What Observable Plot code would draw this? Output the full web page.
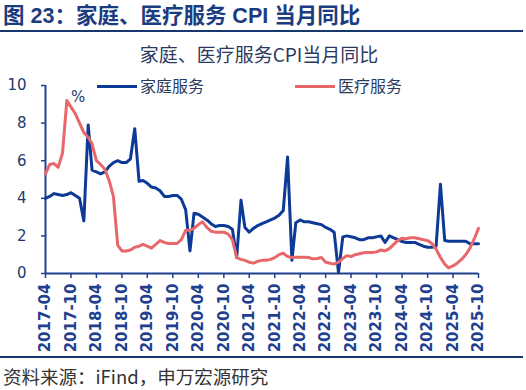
<!DOCTYPE html>
<html>
<head>
<meta charset="utf-8">
<script src="https://cdn.jsdelivr.net/npm/d3@7"></script>
<script src="https://cdn.jsdelivr.net/npm/@observablehq/plot@0.6"></script>
<style>
  html, body { margin: 0; padding: 0; background: #fff; }
  #wrap { position: relative; width: 526px; height: 390px; overflow: hidden; font-family: "Noto Sans CJK SC", "Noto Sans", sans-serif; }
  #title { height: 30px; line-height: 32px; padding-left: 3px; font-size: 21.5px; font-weight: 700; color: #1c3c80; border-bottom: 2.5px solid #17386f; width: 520px; white-space: nowrap; font-family: "Liberation Sans", "Noto Sans CJK SC", sans-serif; }
  #sub { position: absolute; top: 41px; left: 0; width: 518px; text-align: center; font-size: 19px; color: #2a3a60; line-height: 26px; }
  #legend { position: absolute; top: 73px; left: 0; width: 526px; height: 24px; font-size: 16px; color: #2a3a60; line-height: 24px; }
  .li { position: absolute; top: 0; white-space: nowrap; }
  .sw { display: inline-block; width: 40px; height: 3px; vertical-align: middle; margin-right: 3px; position: relative; top: -1px; }
  #pct { position: absolute; left: 71px; top: 88px; font-size: 15px; color: #2a3a60; font-family: "DejaVu Sans", sans-serif; }
  #foot { border-top: 2.5px solid #17386f; width: 520px; height: 30px; line-height: 37px; padding-left: 3px; font-size: 18.5px; color: #333; }
  #chart svg { display: block; }
</style>
</head>
<body>
<div id="wrap">
  <div id="title">图 23：家庭、医疗服务 CPI 当月同比</div>
  <div id="chart"></div>
  <div id="foot">资料来源：iFind，申万宏源研究</div>
  <div id="sub">家庭、医疗服务CPI当月同比</div>
  <div id="legend"></div>
  <div id="pct">%</div>
</div>
<script>
// Months: 2017-04 .. 2025-10
const startMonth = "2017-04";
const endMonth = "2025-10";

const seriesNames = ["家庭服务", "医疗服务"];
const seriesColors = ["#0c3a96", "#e8676b"];

// 家庭服务 CPI 当月同比 (%)
const household = [
  4.0, 4.1, 4.25, 4.2, 4.15, 4.2, 4.3, 4.15, 4.0,
  2.8, 7.9, 5.5, 5.4, 5.3, 5.4, 5.7, 5.9, 6.0, 5.9, 5.9, 6.1,
  7.7, 4.9, 4.95, 4.8, 4.6, 4.55, 4.4, 4.1, 4.1, 4.15, 4.15, 3.95,
  3.4, 1.2, 3.2, 3.15, 3.0, 2.85, 2.65, 2.5, 2.55, 2.55, 2.5, 2.35,
  0.85, 3.9, 2.45, 2.2, 2.4, 2.55, 2.65, 2.75, 2.85, 2.95, 3.1, 3.35,
  6.2, 0.7, 2.7, 2.85, 2.75, 2.75, 2.7, 2.65, 2.6, 2.45, 2.35, 2.2,
  0.05, 1.95, 2.0, 1.95, 1.9, 1.8, 1.8, 1.9, 1.9, 1.95, 2.0, 1.65,
  2.0, 1.9, 1.8, 1.7, 1.65, 1.65, 1.65, 1.55, 1.45, 1.4, 1.4, 1.45,
  4.75, 1.75, 1.72, 1.72, 1.72, 1.72, 1.72, 1.58, 1.58, 1.58
];

// 医疗服务 CPI 当月同比 (%)
const medical = [
  5.3, 5.8, 5.85, 5.65, 6.4, 9.2, 8.85, 8.5, 8.0,
  7.5, 7.25, 6.9, 6.0, 5.8, 5.55, 4.95, 4.1, 1.5, 1.2, 1.2, 1.25,
  1.4, 1.45, 1.55, 1.45, 1.35, 1.55, 1.75, 1.65, 1.6, 1.6, 1.6, 1.8,
  2.3, 2.3, 2.4, 2.6, 2.75, 2.45, 2.25, 2.2, 2.2, 2.2, 2.1, 1.8,
  0.85, 0.75, 0.7, 0.6, 0.55, 0.65, 0.7, 0.7, 0.75, 0.85, 1.0, 1.08,
  0.9, 0.85, 0.87, 0.87, 0.87, 0.85, 0.78, 0.8, 0.85, 0.6, 0.55, 0.5,
  0.6, 0.8, 0.95, 0.9, 1.0, 1.05, 1.1, 1.12, 1.12, 1.15, 1.25, 1.2,
  1.32, 1.55, 1.75, 1.88, 1.85, 1.9, 1.9, 1.85, 1.8, 1.75, 1.6, 1.3,
  0.85, 0.5, 0.3, 0.4, 0.55, 0.75, 1.0, 1.35, 1.85, 2.4
];

const xTickLabels = ["2017-04","2017-10","2018-04","2018-10","2019-04","2019-10","2020-04","2020-10",
  "2021-04","2021-10","2022-04","2022-10","2023-04","2023-10","2024-04","2024-10","2025-04","2025-10"];
const yTicks = [0, 2, 4, 6, 8, 10];

const parseM = d3.utcParse("%Y-%m");
const fmtM = d3.utcFormat("%Y-%m");
const t0 = parseM(startMonth), t1 = parseM(endMonth);
const months = d3.utcMonth.range(t0, d3.utcMonth.offset(t1, 1));

const rows = [];
months.forEach((d, i) => {
  rows.push({date: d, value: household[i], s: seriesNames[0]});
});
months.forEach((d, i) => {
  rows.push({date: d, value: medical[i], s: seriesNames[1]});
});

const axisColor = "#1f3f8f";
const textColor = "#223a6b";

const chart = Plot.plot({
  width: 526,
  height: 324,
  marginLeft: 45,
  marginRight: 48,
  marginTop: 53,
  marginBottom: 83,
  style: {fontFamily: "'DejaVu Sans', sans-serif", background: "transparent", overflow: "visible"},
  x: {type: "utc", domain: [t0, t1]},
  y: {domain: [0, 10]},
  color: {domain: seriesNames, range: seriesColors},
  marks: [
    Plot.axisY({ticks: yTicks, tickSize: 4, tickPadding: 15, stroke: axisColor, strokeWidth: 1.5, fill: textColor, fontSize: 15, label: null}),
    Plot.axisX({ticks: xTickLabels.map(parseM), tickFormat: fmtM, tickRotate: -90, tickSize: 5, tickPadding: 5, stroke: axisColor, strokeWidth: 1.5, fill: axisColor, fontSize: 15, fontWeight: 600, label: null}),
    Plot.ruleX([t0], {y1: 0, y2: 10, stroke: axisColor, strokeWidth: 2}),
    Plot.ruleY([0], {stroke: axisColor, strokeWidth: 2}),
    Plot.lineY(rows.filter(r => r.s === seriesNames[0]), {x: "date", y: "value", stroke: "s", strokeWidth: 3}),
    Plot.lineY(rows.filter(r => r.s === seriesNames[1]), {x: "date", y: "value", stroke: "s", strokeWidth: 3})
  ]
});
document.getElementById("chart").appendChild(chart);

// legend
const leg = document.getElementById("legend");
const legX = [97, 295];
seriesNames.forEach((n, i) => {
  const el = document.createElement("div");
  el.className = "li";
  el.style.left = legX[i] + "px";
  el.innerHTML = `<span class="sw" style="background:${seriesColors[i]}"></span>${n}`;
  leg.appendChild(el);
});
</script>
</body>
</html>
